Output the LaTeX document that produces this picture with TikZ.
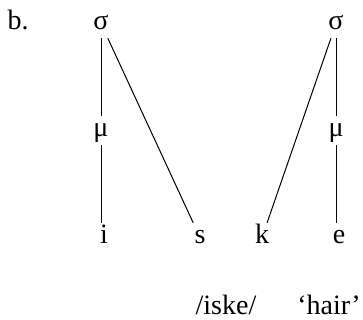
\documentclass[tikz,border=0pt]{standalone}
\usepackage{fontspec}
\setmainfont{Liberation Serif}
\begin{document}
\begin{tikzpicture}[x=1pt,y=1pt,
  lbl/.style={anchor=base,inner sep=0pt,font=\fontsize{28}{32}\selectfont},
  seg/.style={lbl,text height=13pt,text depth=0pt,inner sep=8pt},
  assoc/.style={line width=1pt}]
\useasboundingbox (0,0) rectangle (363,320);

\node[lbl] (ex) at (18,290) {b.};

\node[seg] (sl) at (101,290) {σ};
\node[seg] (sr) at (336,290) {σ};

\node[seg] (ml) at (101,183) {μ};
\node[seg] (mr) at (336,183) {μ};

\node[seg] (i) at (104,76) {i};
\node[seg] (s) at (200,76) {s};
\node[seg] (k) at (262,76) {k};
\node[seg] (e) at (339,76) {e};

\node[lbl] (ur) at (226,5) {/iske/};
\node[lbl] (gl) at (329,5) {‘hair’};

\draw[assoc] (sl) -- (ml);
\draw[assoc] (ml.south) -- (ml.south |- i.north);
\draw[assoc] (sl) -- (s);
\draw[assoc] (sr) -- (k);
\draw[assoc] (sr) -- (mr);
\draw[assoc] (mr.south) -- (mr.south |- e.north);
\end{tikzpicture}
\end{document}
